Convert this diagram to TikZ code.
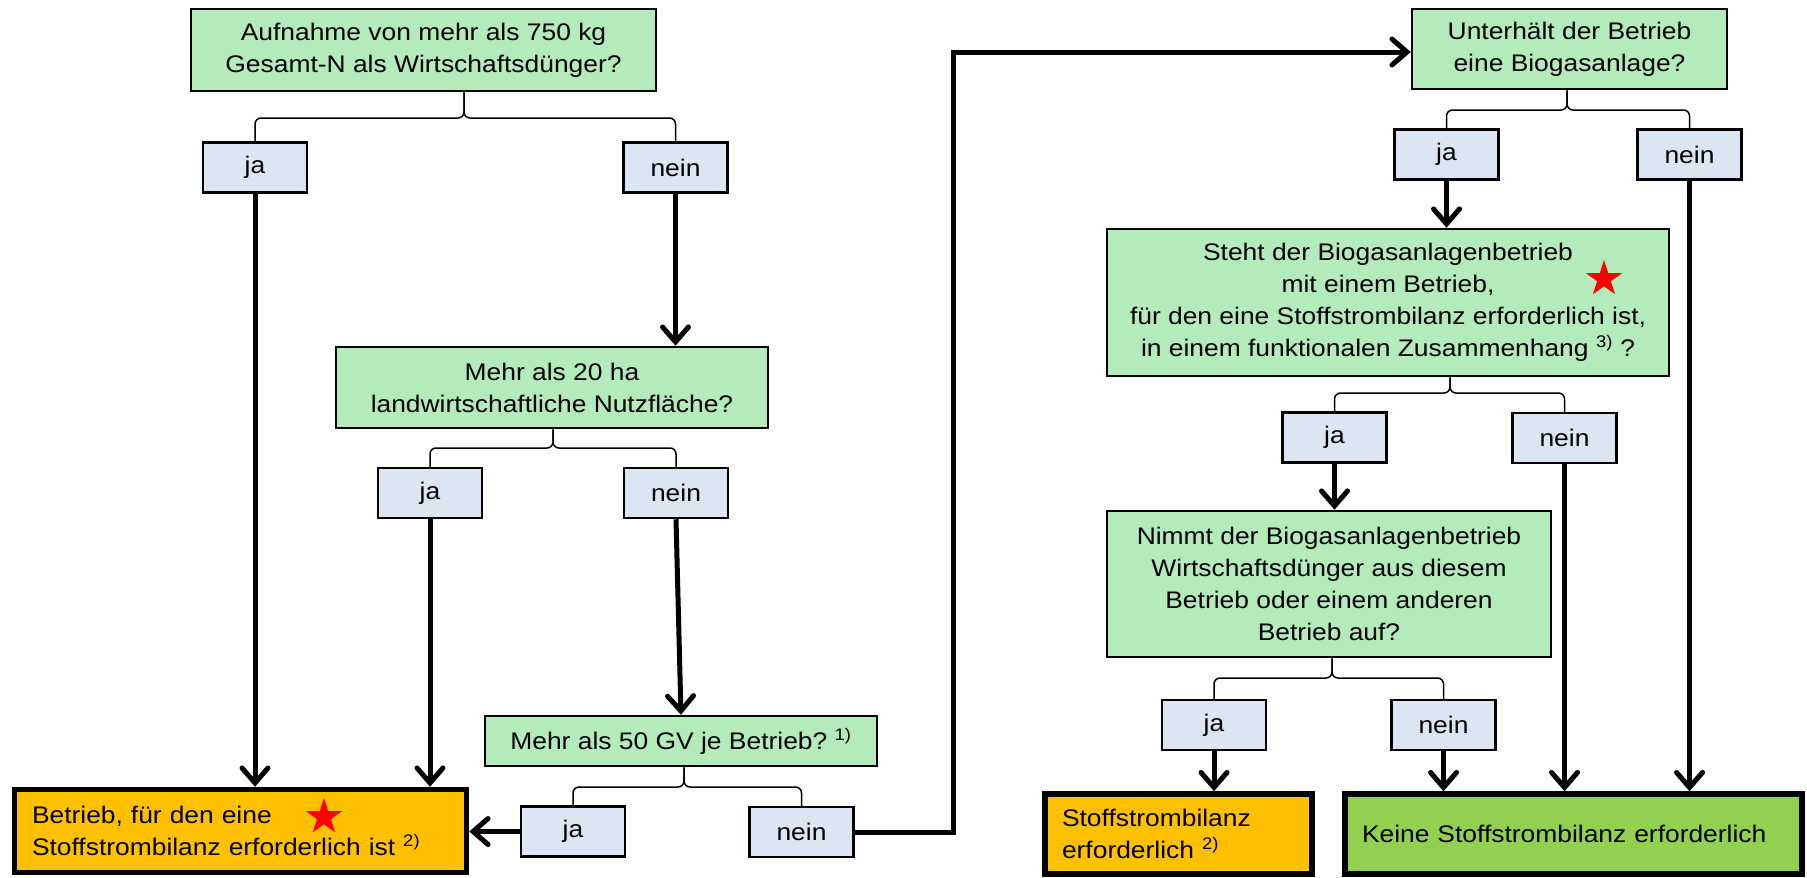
\documentclass[tikz,border=0pt]{standalone}
\usepackage{fontspec}
\setmainfont{Liberation Sans}[FakeStretch=1.1]
\usetikzlibrary{arrows.meta,shapes.geometric}

\definecolor{fgruen}{RGB}{180,235,186}
\definecolor{ablau}{RGB}{220,230,242}
\definecolor{borange}{RGB}{255,192,0}
\definecolor{kgruen}{RGB}{146,208,80}

\tikzset{
  frage/.style={draw, line width=2.5pt, fill=fgruen, align=center, inner sep=0pt},
  antwort/.style={draw, line width=2.5pt, fill=ablau, minimum width=104pt, minimum height=50pt, inner sep=0pt},
  ergebnis/.style={draw, line width=5.5pt, inner sep=0pt, align=left},
  pfeil/.style={line width=5pt, -{Straight Barb[length=15pt,width=26pt,line cap=round]}},
  klammer/.style={line width=1.5pt, rounded corners=6pt},
  stern/.style={star, star points=5, star point ratio=2.618, fill=red, inner sep=0pt, minimum size=38pt}
}

\begin{document}
\begin{tikzpicture}[x=1pt, y=-1pt, font=\fontsize{24}{32}\selectfont]

\clip (0,0) rectangle (1807,878);

% linke Seite
\node [frage, minimum width=465pt, minimum height=82pt] (q1) at (423.5,50) {Aufnahme von mehr als 750 kg\\Gesamt-N als Wirtschaftsdünger?};
\node [antwort] (ja1) at (255,167.5) {ja};
\node [antwort] (nein1) at (675.5,167.5) {nein};

\node [frage, minimum width=432pt, minimum height=81pt] (q2) at (552,387.5) {Mehr als 20 ha\\landwirtschaftliche Nutzfläche?};
\node [antwort] (ja2) at (430,493) {ja};
\node [antwort] (nein2) at (676,493) {nein};

\node [frage, minimum width=392pt, minimum height=50pt] (q3) at (681,741) {Mehr als 50 GV je Betrieb?\ \textsuperscript{1)}};
\node [antwort] (ja3) at (573,831.5) {ja};
\node [antwort] (nein3) at (801.5,832) {nein};

\node [ergebnis, fill=borange, minimum width=452pt, minimum height=83pt, text width=417pt] (betrieb) at (240.5,831) {Betrieb, für den eine\\Stoffstrombilanz erforderlich ist \textsuperscript{2)}};
\node [stern] (stern1) at (324,817) {};

% rechte Seite
\node [frage, minimum width=315pt, minimum height=80pt] (q4) at (1569.5,49) {Unterhält der Betrieb\\eine Biogasanlage?};
\node [antwort] (ja4) at (1446.5,154.5) {ja};
\node [antwort] (nein4) at (1689.5,154.5) {nein};

\node [frage, minimum width=562pt, minimum height=147pt] (q5) at (1388,302.5) {Steht der Biogasanlagenbetrieb\\mit einem Betrieb,\\für den eine Stoffstrombilanz erforderlich ist,\\in einem funktionalen Zusammenhang \textsuperscript{3)} ?};
\node [stern] (stern2) at (1604,279) {};
\node [antwort] (ja5) at (1334.5,437.5) {ja};
\node [antwort] (nein5) at (1564.5,438) {nein};

\node [frage, minimum width=444pt, minimum height=146pt] (q6) at (1329,584) {Nimmt der Biogasanlagenbetrieb\\Wirtschaftsdünger aus diesem\\Betrieb oder einem anderen\\Betrieb auf?};
\node [antwort] (ja6) at (1214,725) {ja};
\node [antwort] (nein6) at (1443.5,725) {nein};

\node [ergebnis, fill=borange, minimum width=267pt, minimum height=80pt, text width=233pt] (stoff) at (1178.5,834) {Stoffstrombilanz\\erforderlich \textsuperscript{2)}};
\node [ergebnis, fill=kgruen, minimum width=457pt, minimum height=80pt, text width=423pt] (keine) at (1573.5,834) {Keine Stoffstrombilanz erforderlich};

% Klammern
\coordinate (K1) at (464,118);
\coordinate (K2) at (553,448);
\coordinate (K3) at (684,787);
\coordinate (K4) at (1567,110);
\coordinate (K5) at (1450,393);
\coordinate (K6) at (1332,678);

\draw [klammer] (ja1.north) |- (K1) -- (K1 |- q1.south);
\draw [klammer] (nein1.north) |- (K1) -- (K1 |- q1.south);
\draw [klammer] (ja2.north) |- (K2) -- (K2 |- q2.south);
\draw [klammer] (nein2.north) |- (K2) -- (K2 |- q2.south);
\draw [klammer] (ja3.north) |- (K3) -- (K3 |- q3.south);
\draw [klammer] (nein3.north) |- (K3) -- (K3 |- q3.south);
\draw [klammer] (ja4.north) |- (K4) -- (K4 |- q4.south);
\draw [klammer] (nein4.north) |- (K4) -- (K4 |- q4.south);
\draw [klammer] (ja5.north) |- (K5) -- (K5 |- q5.south);
\draw [klammer] (nein5.north) |- (K5) -- (K5 |- q5.south);
\draw [klammer] (ja6.north) |- (K6) -- (K6 |- q6.south);
\draw [klammer] (nein6.north) |- (K6) -- (K6 |- q6.south);

% Pfeile
\coordinate (knick) at (953,52);

\draw [pfeil] (ja1.south) -- (ja1.south |- betrieb.north);
\draw [pfeil] (nein1.south) -- (nein1.south |- q2.north);
\draw [pfeil] (ja2.south) -- (ja2.south |- betrieb.north);
\draw [pfeil] (nein2.south) -- (q3.north);
\draw [pfeil] (ja3.west) -- (ja3.west -| betrieb.east);
\draw [pfeil] (nein3.east) -| (knick) -- (knick -| q4.west);

\draw [pfeil] (ja4.south) -- (ja4.south |- q5.north);
\draw [pfeil] (nein4.south) -- (nein4.south |- keine.north);
\draw [pfeil] (ja5.south) -- (ja5.south |- q6.north);
\draw [pfeil] (nein5.south) -- (nein5.south |- keine.north);
\draw [pfeil] (ja6.south) -- (ja6.south |- stoff.north);
\draw [pfeil] (nein6.south) -- (nein6.south |- keine.north);

\end{tikzpicture}
\end{document}
